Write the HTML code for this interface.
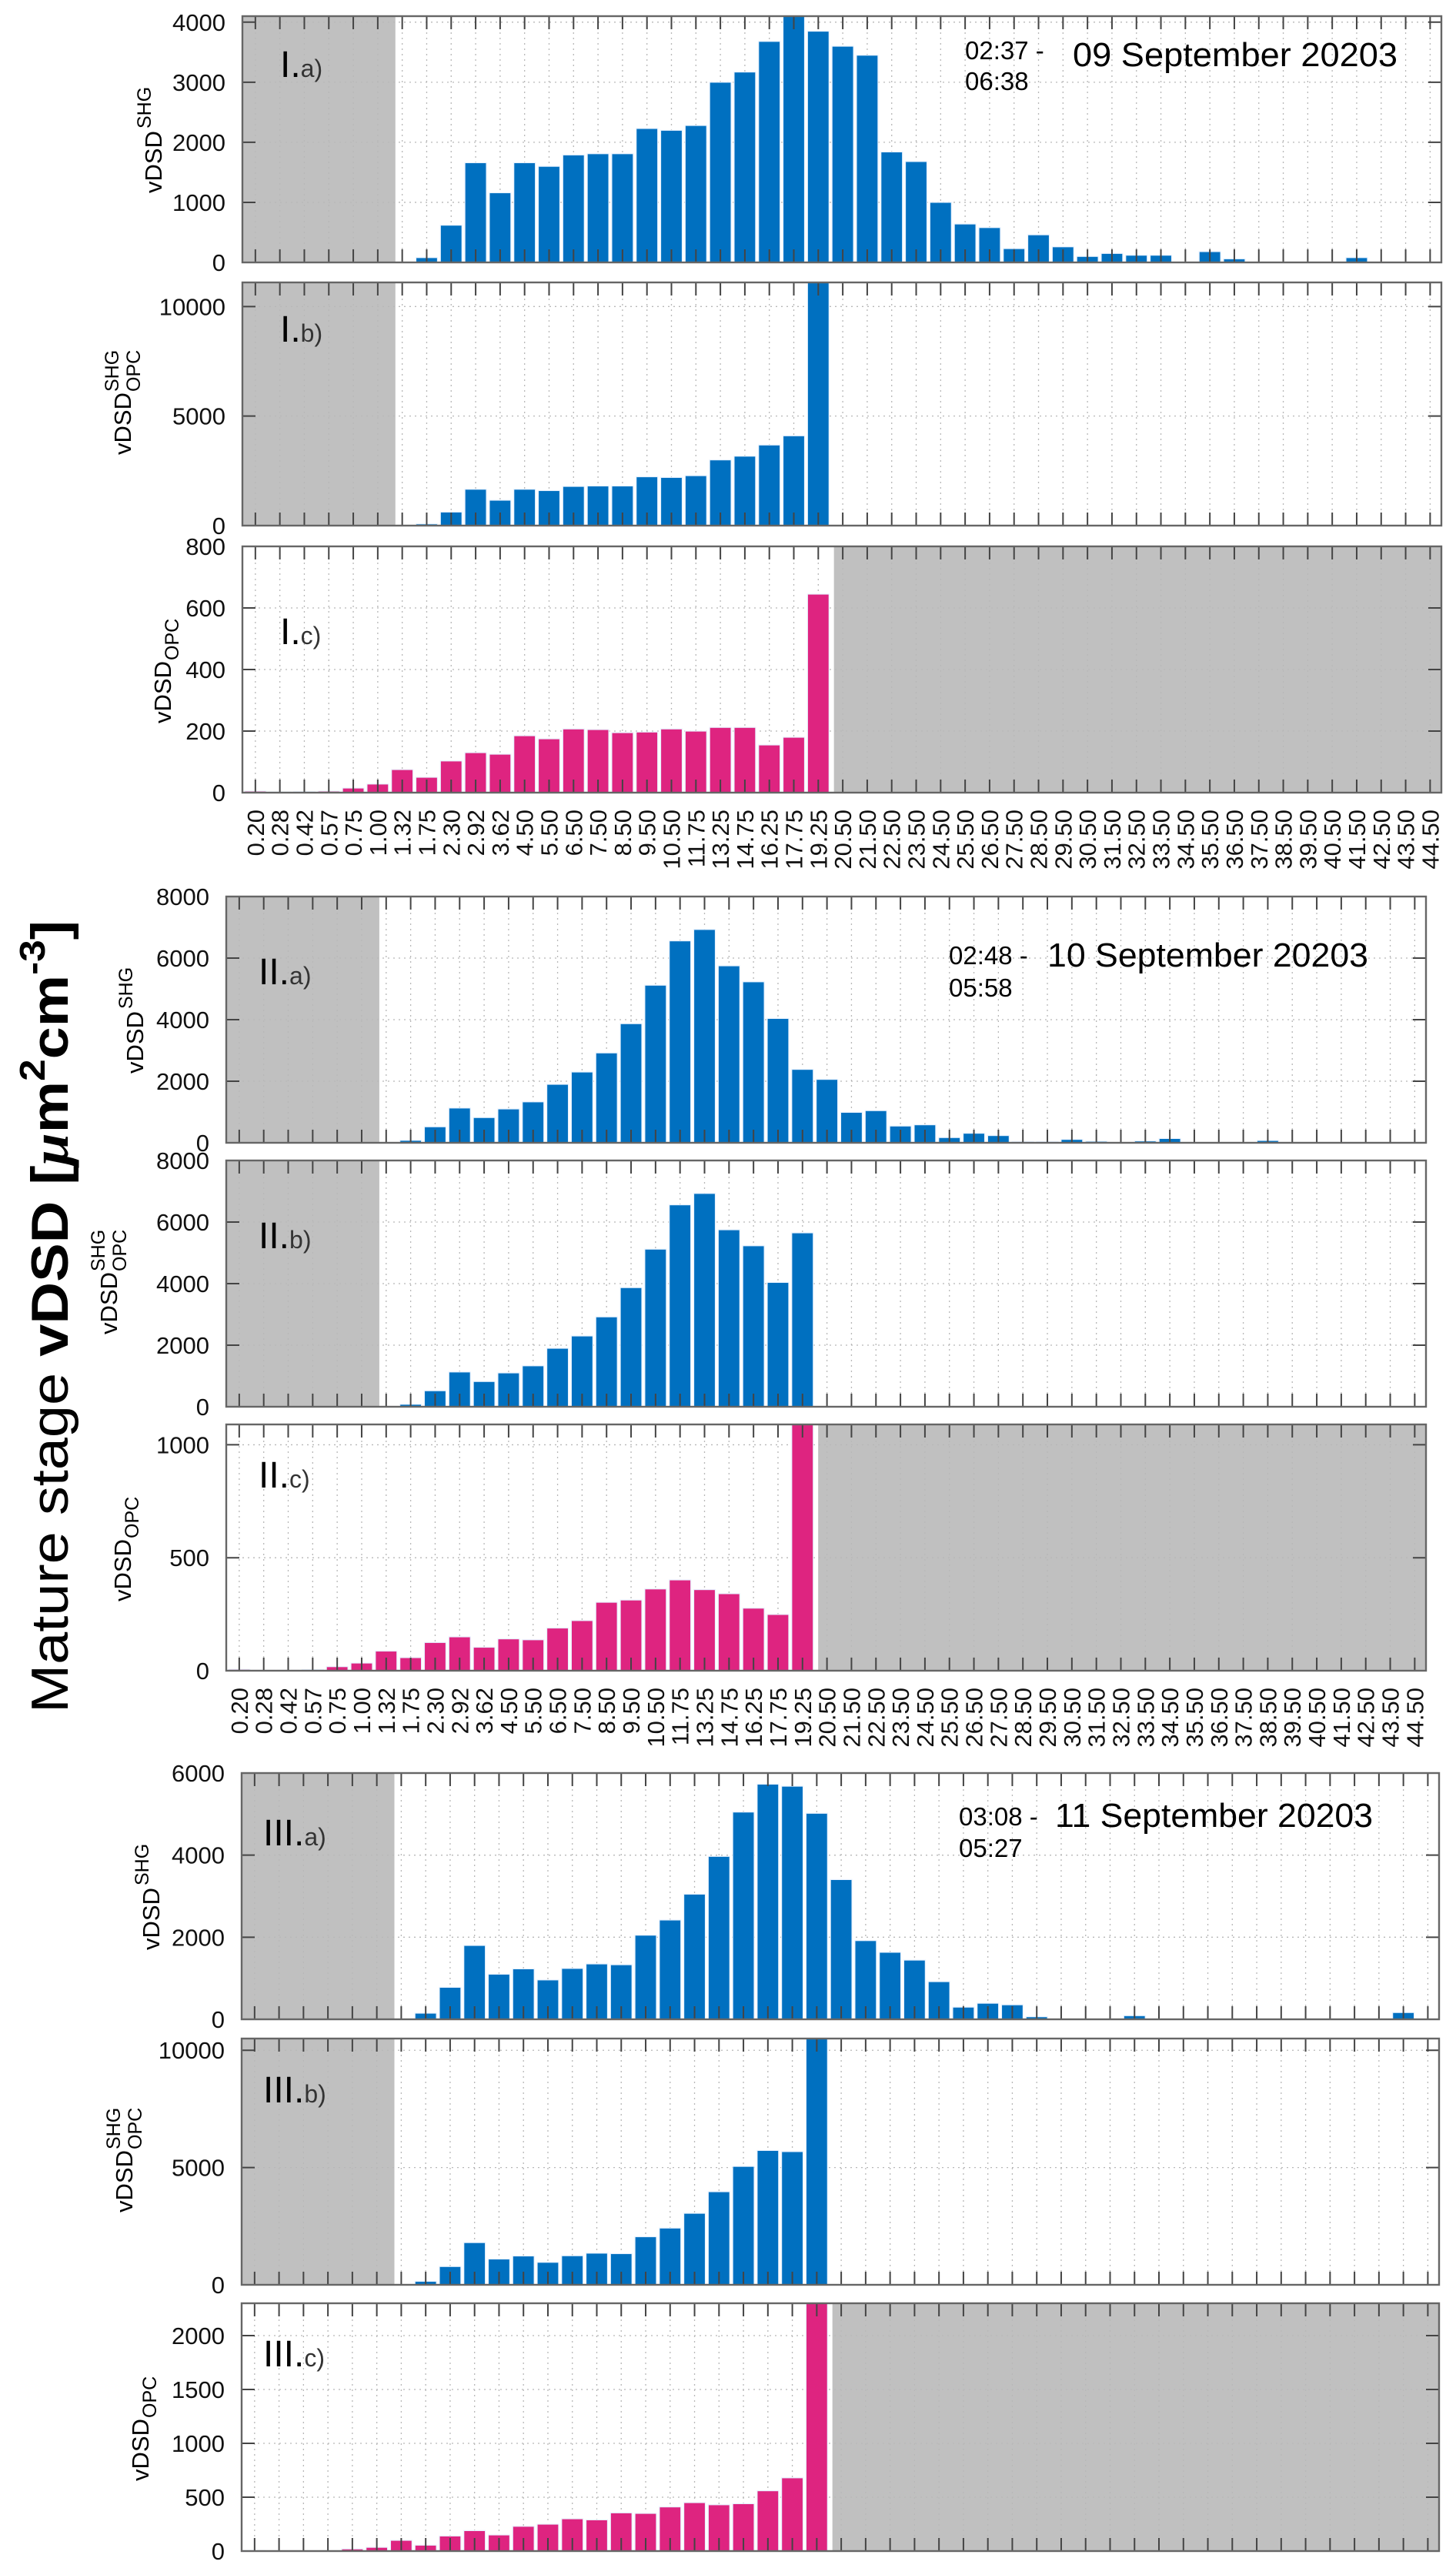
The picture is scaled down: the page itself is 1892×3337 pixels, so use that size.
<!DOCTYPE html>
<html><head><meta charset="utf-8"><style>
html,body{margin:0;padding:0;background:#fff;}
svg{display:block;font-family:"Liberation Sans",Arial,sans-serif;}
</style></head><body>
<svg id="fig" width="1892" height="3337" viewBox="0 0 1892 3337" xmlns="http://www.w3.org/2000/svg">
<rect width="1892" height="3337" fill="#fff"/>
<text transform="translate(88,2226) rotate(-90)" font-size="68" fill="#000" textLength="1030" lengthAdjust="spacingAndGlyphs">Mature stage <tspan font-weight="bold">vDSD [</tspan><tspan font-weight="bold" font-style="italic" font-family="Liberation Serif, serif">μ</tspan><tspan font-weight="bold">m</tspan><tspan font-weight="bold" font-size="46" dy="-30">2</tspan><tspan font-weight="bold" dy="30">cm</tspan><tspan font-weight="bold" font-size="46" dy="-30">-3</tspan><tspan font-weight="bold" dy="30">]</tspan></text>
</svg>
<script>
const sizeBins = ["0.20","0.28","0.42","0.57","0.75","1.00","1.32","1.75","2.30","2.92","3.62","4.50","5.50","6.50","7.50","8.50","9.50","10.50","11.75","13.25","14.75","16.25","17.75","19.25","20.50","21.50","22.50","23.50","24.50","25.50","26.50","27.50","28.50","29.50","30.50","31.50","32.50","33.50","34.50","35.50","36.50","37.50","38.50","39.50","40.50","41.50","42.50","43.50","44.50"];

const sep09Shg = [0,0,0,0,0,0,0,80,620,1660,1160,1660,1600,1790,1810,1810,2230,2200,2280,3000,3170,3680,4100,3850,3600,3450,1840,1680,1000,640,580,230,460,260,100,150,120,120,0,180,60,0,0,0,0,80,0,0,0];
const sep09Ratio = [0,0,0,0,0,0,0,80,620,1660,1160,1660,1600,1790,1810,1810,2230,2200,2280,3000,3170,3680,4100,11100,0,0,0,0,0,0,0,0,0,0,0,0,0,0,0,0,0,0,0,0,0,0,0,0,0];
const sep09Opc = [5,2,3,5,15,28,75,50,103,130,125,185,175,207,205,195,197,207,200,212,212,155,180,645,0,0,0,0,0,0,0,0,0,0,0,0,0,0,0,0,0,0,0,0,0,0,0,0,0];

const sep10Shg = [0,0,0,0,0,0,0,80,520,1130,820,1100,1330,1900,2300,2920,3870,5120,6560,6930,5750,5230,4040,2385,2060,990,1045,545,585,170,310,235,40,40,110,50,0,60,140,0,0,0,75,0,0,0,0,0,0];
const sep10Ratio = [0,0,0,0,0,0,0,80,520,1130,820,1100,1330,1900,2300,2920,3870,5120,6560,6930,5750,5230,4040,5650,0,0,0,0,0,0,0,0,0,0,0,0,0,0,0,0,0,0,0,0,0,0,0,0,0];
const sep10Opc = [6,2,2,5,18,34,87,58,125,150,104,141,137,189,222,303,313,362,402,359,341,277,249,1090,0,0,0,0,0,0,0,0,0,0,0,0,0,0,0,0,0,0,0,0,0,0,0,0,0];

const sep11Shg = [0,0,0,0,0,0,0,150,780,1800,1100,1230,960,1240,1350,1330,2050,2420,3050,3970,5050,5730,5680,5020,3405,1918,1633,1443,918,297,392,354,63,0,0,0,89,0,0,0,0,0,0,0,0,0,0,165,0];
const sep11Ratio = [0,0,0,0,0,0,0,150,780,1800,1100,1230,960,1240,1350,1330,2050,2420,3050,3970,5050,5730,5680,10500,0,0,0,0,0,0,0,0,0,0,0,0,0,0,0,0,0,0,0,0,0,0,0,0,0];
const sep11Opc = [5,0,0,0,20,35,100,55,140,190,150,230,250,300,290,355,350,410,450,430,440,560,680,2300,0,0,0,0,0,0,0,0,0,0,0,0,0,0,0,0,0,0,0,0,0,0,0,0,0];

const ticksI_a = [0,1000,2000,3000,4000];
const ticksI_b = [0,5000,10000];
const ticksI_c = [0,200,400,600,800];
const ticksII_ab = [0,2000,4000,6000,8000];
const ticksII_c = [0,500,1000];
const ticksIII_a = [0,2000,4000,6000];
const ticksIII_b = [0,5000,10000];
const ticksIII_c = [0,500,1000,1500,2000];

const NS = "http://www.w3.org/2000/svg";
const svg = document.getElementById('fig');
const BLUE = "#0070c0", PINK = "#de2480";

function mk(tag, attrs, parent, text) {
  const e = document.createElementNS(NS, tag);
  for (const k in attrs) e.setAttribute(k, attrs[k]);
  if (text !== undefined) e.textContent = text;
  (parent || svg).appendChild(e);
  return e;
}

const panels = [
  {id:"I-a", L:315,R:1873,T:21,B:341, ymax:4100, ticks:ticksI_a, data:sep09Shg, color:BLUE, gray:"left", roman:"I.", sub:"a)", lx:364, lb:100, yl:"a", ylx:210, xlabels:false},
  {id:"I-b", L:315,R:1873,T:367,B:683, ymax:11100, ticks:ticksI_b, data:sep09Ratio, color:BLUE, gray:"left", roman:"I.", sub:"b)", lx:364, lb:444, yl:"b", ylx:170, xlabels:false},
  {id:"I-c", L:315,R:1873,T:710,B:1030, ymax:800, ticks:ticksI_c, data:sep09Opc, color:PINK, gray:"right", roman:"I.", sub:"c)", lx:364, lb:837, yl:"c", ylx:222, xlabels:true},
  {id:"II-a", L:294,R:1853,T:1165,B:1485, ymax:8000, ticks:ticksII_ab, data:sep10Shg, color:BLUE, gray:"left", roman:"II.", sub:"a)", lx:336, lb:1279, yl:"a", ylx:186, xlabels:false},
  {id:"II-b", L:294,R:1853,T:1508,B:1828, ymax:8000, ticks:ticksII_ab, data:sep10Ratio, color:BLUE, gray:"left", roman:"II.", sub:"b)", lx:336, lb:1622, yl:"b", ylx:152, xlabels:false},
  {id:"II-c", L:294,R:1853,T:1851,B:2171, ymax:1090, ticks:ticksII_c, data:sep10Opc, color:PINK, gray:"right", roman:"II.", sub:"c)", lx:336, lb:1933, yl:"c", ylx:170, xlabels:true},
  {id:"III-a", L:314,R:1870,T:2304,B:2624, ymax:6000, ticks:ticksIII_a, data:sep11Shg, color:BLUE, gray:"left", roman:"III.", sub:"a)", lx:342, lb:2398, yl:"a", ylx:207, xlabels:false},
  {id:"III-b", L:314,R:1870,T:2649,B:2969, ymax:10500, ticks:ticksIII_b, data:sep11Ratio, color:BLUE, gray:"left", roman:"III.", sub:"b)", lx:342, lb:2732, yl:"b", ylx:172, xlabels:false},
  {id:"III-c", L:314,R:1870,T:2993,B:3315, ymax:2300, ticks:ticksIII_c, data:sep11Opc, color:PINK, gray:"right", roman:"III.", sub:"c)", lx:342, lb:3075, yl:"c", ylx:193, xlabels:false}
];

const XLO = -0.53, XHI = 48.46;

panels.forEach(p => {
  const g = mk('g', {});
  
  
  const xs = i => p.L + (i - XLO) / (XHI - XLO) * (p.R - p.L);
  const ys = v => p.B - Math.min(v, p.ymax) / p.ymax * (p.B - p.T);
  const slot = xs(1) - xs(0);

  // gray shading
  if (p.gray === "left") {
    const r = mk('rect', {x:p.L, y:p.T, width:xs(5.72)-p.L, height:p.B-p.T, fill:"#c0c0c0"}, g);
    
    
  } else {
    const r = mk('rect', {x:xs(23.64), y:p.T, width:p.R-xs(23.64), height:p.B-p.T, fill:"#c0c0c0"}, g);
    
    
  }
  // grid
  sizeBins.forEach((b, i) => {
    mk('line', {x1:xs(i), x2:xs(i), y1:p.T, y2:p.B, stroke:"#b8b8b8", "stroke-width":1.3, "stroke-dasharray":"2,5"}, g);
  });
  p.ticks.forEach(t => {
    if (t === 0) return;
    mk('line', {x1:p.L, x2:p.R, y1:ys(t), y2:ys(t), stroke:"#b8b8b8", "stroke-width":1.3, "stroke-dasharray":"2,5"}, g);
  });
  // bars
  p.data.forEach((v, i) => {
    if (v <= 0) return;
    const w = slot * 0.88;
    const b = mk('rect', {x:xs(i)-w/2, y:ys(v), width:w, height:p.B-ys(v), fill:p.color, stroke:"#e8f2ff", "stroke-width":1.2}, g);
    
    
  });
  // ticks
  sizeBins.forEach((b, i) => {
    mk('line', {x1:xs(i), x2:xs(i), y1:p.B, y2:p.B-17, stroke:"#444", "stroke-width":2}, g);
    mk('line', {x1:xs(i), x2:xs(i), y1:p.T, y2:p.T+17, stroke:"#444", "stroke-width":2}, g);
  });
  p.ticks.forEach(t => {
    mk('line', {x1:p.L, x2:p.L+17, y1:ys(t), y2:ys(t), stroke:"#444", "stroke-width":2}, g);
    mk('line', {x1:p.R, x2:p.R-17, y1:ys(t), y2:ys(t), stroke:"#444", "stroke-width":2}, g);
    const tl = mk('text', {x:p.L-22, y:ys(t)+11, "text-anchor":"end", "font-size":31, fill:"#111"}, g, String(t));
    
    
  });
  // box
  mk('rect', {x:p.L, y:p.T, width:p.R-p.L, height:p.B-p.T, fill:"none", stroke:"#666", "stroke-width":2.4}, g);
  // x labels
  if (p.xlabels) {
    sizeBins.forEach((b, i) => {
      const t = mk('text', {transform:`translate(${xs(i)+11},${p.B+22}) rotate(-90)`, "text-anchor":"end", "font-size":31, fill:"#111"}, g, b);
      
      
    });
  }
  // panel label
  const pl = mk('text', {x:p.lx, y:p.lb, "font-size":48, fill:"#000"}, g);
  
  
  mk('tspan', {}, pl, p.roman);
  mk('tspan', {"font-size":32, fill:"#333"}, pl, p.sub);
  // y axis label
  const cy = (p.T + p.B) / 2;
  const yg = mk('g', {transform:`translate(${p.ylx},${cy}) rotate(-90)`}, g);
  
  
  const w0 = 80;
  if (p.yl === "a") {
    mk('text', {x:-70, y:0, "font-size":31}, yg, "vDSD");
    mk('text', {x:-70+w0+4, y:-14, "font-size":25}, yg, "SHG");
  } else if (p.yl === "b") {
    mk('text', {x:-66, y:0, "font-size":31}, yg, "vDSD");
    mk('text', {x:-66+w0+2, y:-16, "font-size":25}, yg, "SHG");
    mk('text', {x:-66+w0+2, y:12, "font-size":25}, yg, "OPC");
  } else {
    mk('text', {x:-70, y:0, "font-size":31}, yg, "vDSD");
    mk('text', {x:-70+w0+2, y:10, "font-size":25}, yg, "OPC");
  }
});

const notes = [
  {t1:"02:37 -", t2:"06:38", tx:1254, b1:77, b2:117, date:"09 September 20203", dx:1394, db:86, dl:422},
  {t1:"02:48 -", t2:"05:58", tx:1233, b1:1253, b2:1295, date:"10 September 20203", dx:1361, db:1256, dl:417},
  {t1:"03:08 -", t2:"05:27", tx:1246, b1:2372, b2:2413, date:"11 September 20203", dx:1371, db:2374, dl:413}
];
notes.forEach(n => {
  const a = mk('text', {x:n.tx, y:n.b1, "font-size":33, fill:"#000"}, svg, n.t1);
  
  
  const b = mk('text', {x:n.tx, y:n.b2, "font-size":33, fill:"#000"}, svg, n.t2);
  
  
  const d = mk('text', {x:n.dx, y:n.db, "font-size":44, fill:"#000", textLength:n.dl, lengthAdjust:"spacingAndGlyphs"}, svg, n.date);
  
  
});
</script>
</body></html>
